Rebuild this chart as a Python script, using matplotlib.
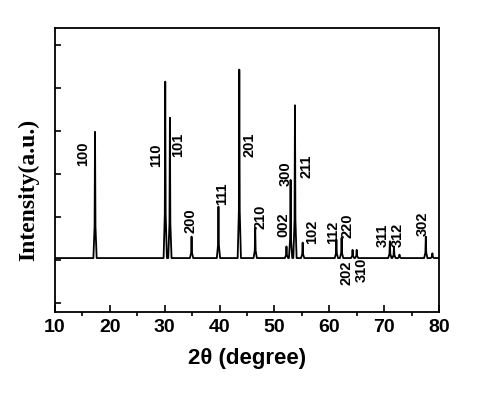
import numpy as np
import matplotlib
matplotlib.use('Agg')
import matplotlib.pyplot as plt

# peak positions (2theta) and heights
peak_pos = [17.3, 30.1, 30.95, 34.9, 39.8, 43.6, 46.5, 52.2, 52.95, 53.75,
            55.15, 61.3, 62.25, 64.25, 65.0, 71.05, 71.8, 72.8, 77.6, 78.8]
peak_height = [3.98, 5.15, 4.31, 1.54, 2.24, 5.43, 1.74, 1.31, 2.86, 4.60,
               1.40, 1.47, 1.51, 1.23, 1.23, 1.43, 1.31, 1.12, 1.54, 1.15]
baseline = 1.04

# hkl labels and where they sit
hkl = ['100', '110', '101', '200', '111', '201', '210', '002', '300', '211',
       '102', '112', '220', '202', '310', '311', '312', '302']
hkl_x = [15.2, 28.4, 32.4, 34.7, 40.4, 45.4, 47.5, 51.7, 52.0, 55.9,
         56.8, 60.7, 63.3, 63.2, 65.9, 69.7, 72.4, 77.0]
hkl_y = [3.48, 3.43, 3.68, 1.92, 2.53, 3.67, 1.99, 1.81, 3.00, 3.18,
         1.64, 1.64, 1.79, 0.69, 0.77, 1.57, 1.59, 1.85]

# build the line: flat baseline with a narrow spike at each peak
xs = [10.0]
ys = [baseline]
w = 0.3
for p, h in zip(peak_pos, peak_height):
    xs += [p - w, p - 0.08, p, p + 0.08, p + w]
    ys += [baseline, baseline + 0.25 * (h - baseline), h,
           baseline + 0.25 * (h - baseline), baseline]
xs.append(80.0)
ys.append(baseline)

fig = plt.figure(figsize=(4.94, 3.95), dpi=100)
ax = fig.add_axes([0.1113, 0.2101, 0.7773, 0.719])
ax.plot(xs, ys, color='black', lw=1.3)

for lab, x, y in zip(hkl, hkl_x, hkl_y):
    ax.text(x, y, lab, rotation=90, ha='center', va='center',
            fontsize=10.5, fontweight='bold', family='Liberation Sans')

ax.set_xlim(10, 80)
ax.set_ylim(-0.217, 6.4)
ax.set_xticks(np.arange(10, 81, 10))
ax.set_xticks(np.arange(15, 80, 10), minor=True)
ax.set_yticks(np.arange(0, 7, 1))
ax.tick_params(axis='both', direction='in', width=1.2)
ax.tick_params(axis='x', which='major', length=5, labelsize=14, pad=5)
ax.tick_params(axis='x', which='minor', length=3, width=1.2)
ax.tick_params(axis='y', length=4, labelleft=False)
for t in ax.get_xticklabels():
    t.set_fontweight('bold')
    t.set_family('Liberation Sans')
for s in ax.spines.values():
    s.set_linewidth(1.3)

ax.set_xlabel('2θ (degree)', fontsize=16, fontweight='bold',
              family='Liberation Sans', labelpad=9)
ax.set_ylabel('Intensity(a.u.)', fontsize=17, fontweight='bold',
              family='Liberation Serif')
ax.yaxis.set_label_coords(-0.04, 0.43)

fig.savefig('out.png', dpi=100)
